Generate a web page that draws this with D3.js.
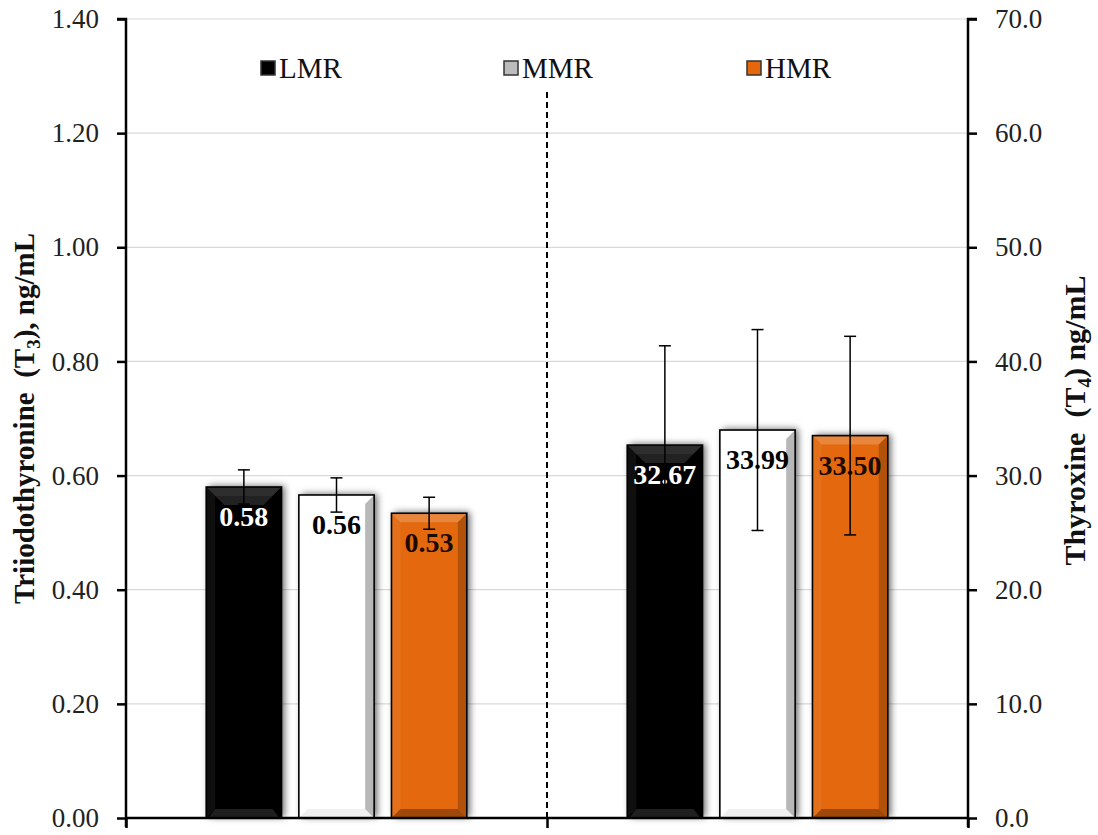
<!DOCTYPE html>
<html>
<head>
<meta charset="utf-8">
<script src="https://cdn.jsdelivr.net/npm/d3@7"></script>
<style>
  html, body { margin: 0; padding: 0; background: #fff; }
  svg { display: block; font-family: "Liberation Serif", "Times New Roman", serif; }
</style>
</head>
<body>
<svg id="chart" width="1098" height="835"></svg>
<script>
// ---- data ----
const groups = ["T3", "T4"];
const series = ["LMR", "MMR", "HMR"];
const t3Means = [0.58, 0.566, 0.534];
const t3Errors = [0.03, 0.03, 0.028];
const t3Labels = ["0.58", "0.56", "0.53"];
const t4Means = [32.67, 33.99, 33.50];
const t4Errors = [8.7, 8.8, 8.7];
const t4Labels = ["32.67", "33.99", "33.50"];
const leftTicks = [0, 0.2, 0.4, 0.6, 0.8, 1.0, 1.2, 1.4];
const rightTicks = [0, 10, 20, 30, 40, 50, 60, 70];

// ---- styles ----
const seriesFill = { LMR: "#000000", MMR: "#ffffff", HMR: "#E4670B" };
const labelFill = { LMR: "#ffffff", MMR: "#000000", HMR: "#1a0a00" };
const bevelOp = { LMR: [0.18, 0.06, 0.2, 0.3], MMR: [0.0, 0.0, 0.28, 0.06], HMR: [0.2, 0.06, 0.22, 0.3] };

const svg = d3.select("#chart");
const margin = { left: 126, right: 1098 - 968, top: 19, bottom: 835 - 818 };
const W = 1098, H = 835;
const x0 = margin.left, x1 = W - margin.right, yTop = margin.top, yBot = H - margin.bottom;

const yL = d3.scaleLinear().domain([0, 1.4]).range([yBot, yTop]);
const yR = d3.scaleLinear().domain([0, 70]).range([yBot, yTop]);
const xg = d3.scaleBand().domain(groups).range([x0, x1]).paddingInner(0).paddingOuter(0);
const xs = d3.scaleBand().domain(series).range([0, xg.bandwidth()]).paddingInner(0.187).paddingOuter(0.866);
const xBound = d3.scaleLinear().domain([0, groups.length]).range([x0, x1]);

const defs = svg.append("defs");
const f = defs.append("filter").attr("id", "shadow").attr("x", "-30%").attr("y", "-10%").attr("width", "160%").attr("height", "120%");
f.append("feDropShadow").attr("dx", 3).attr("dy", -1).attr("stdDeviation", 3.5)
  .attr("flood-color", "#000").attr("flood-opacity", 0.6);

// gridlines
svg.append("g").selectAll("line").data(leftTicks.filter(d => d > 0)).join("line")
  .attr("x1", x0).attr("x2", x1)
  .attr("y1", d => yL(d)).attr("y2", d => yL(d))
  .attr("stroke", "#d9d9d9").attr("stroke-width", 1.2);

// divider
svg.append("line")
  .attr("x1", xBound(1)).attr("x2", xBound(1))
  .attr("y1", 92).attr("y2", yBot)
  .attr("stroke", "#000").attr("stroke-width", 2).attr("stroke-dasharray", "6,4");

// build rows
const rows = [];
groups.forEach((g, gi) => {
  const means = gi === 0 ? t3Means : t4Means;
  const errs = gi === 0 ? t3Errors : t4Errors;
  const labs = gi === 0 ? t3Labels : t4Labels;
  const y = gi === 0 ? yL : yR;
  series.forEach((s, si) => {
    rows.push({ g, s, v: means[si], e: errs[si], lab: labs[si], y });
  });
});

const bw = xs.bandwidth();
const bars = svg.append("g").selectAll("g").data(rows).join("g")
  .attr("transform", d => `translate(${xg(d.g) + xs(d.s)},0)`);

bars.append("rect")
  .attr("x", 0).attr("width", bw)
  .attr("y", d => d.y(d.v)).attr("height", d => yBot - d.y(d.v))
  .attr("fill", d => seriesFill[d.s])
  .attr("filter", "url(#shadow)");

// bevel
const b = 9;
function bevel(sel, ptsFn, color, k) {
  sel.append("polygon").attr("points", d => ptsFn(d).map(p => p.join(",")).join(" "))
    .attr("fill", color).attr("fill-opacity", d => bevelOp[d.s][k]);
}
bevel(bars, d => { const t = d.y(d.v); return [[0, t], [bw, t], [bw - b, t + b], [b, t + b]]; }, "#fff", 0);
bevel(bars, d => { const t = d.y(d.v); return [[0, t], [b, t + b], [b, yBot - b], [0, yBot]]; }, "#fff", 1);
bevel(bars, d => { const t = d.y(d.v); return [[bw, t], [bw, yBot], [bw - b, yBot - b], [bw - b, t + b]]; }, "#000", 2);
bevel(bars, d => [[0, yBot], [b, yBot - b], [bw - b, yBot - b], [bw, yBot]], "#000", 3);
bars.filter(d => d.s === "LMR").append("polygon")
  .attr("points", d => { const t = d.y(d.v); return [[b, t + b], [bw - b, t + b], [bw - 2 * b, t + 2 * b], [2 * b, t + 2 * b]].map(p => p.join(",")).join(" "); })
  .attr("fill", "#444").attr("fill-opacity", 0.5);
bars.filter(d => d.s === "LMR").append("polygon")
  .attr("points", d => [[b, yBot - b], [bw - b, yBot - b], [bw - 2, yBot], [2, yBot]].map(p => p.join(",")).join(" "))
  .attr("fill", "#333").attr("fill-opacity", 0.6);
bars.append("rect")
  .attr("x", 0).attr("width", bw)
  .attr("y", d => d.y(d.v)).attr("height", d => yBot - d.y(d.v))
  .attr("fill", "none").attr("stroke", "#000").attr("stroke-width", 1.6);

// value labels
bars.append("text")
  .attr("x", bw / 2).attr("y", d => d.y(d.v) + 39)
  .attr("text-anchor", "middle")
  .attr("font-size", 28).attr("font-weight", "bold")
  .attr("fill", d => labelFill[d.s])
  .text(d => d.lab);

// error bars
const cap = 6;
const eb = svg.append("g").selectAll("g").data(rows).join("g")
  .attr("transform", d => `translate(${xg(d.g) + xs(d.s) + bw / 2},0)`)
  .attr("stroke", "#000").attr("stroke-width", 1.5);
eb.append("line").attr("y1", d => d.y(d.v + d.e)).attr("y2", d => d.y(d.v - d.e));
eb.append("line").attr("x1", -cap).attr("x2", cap).attr("y1", d => d.y(d.v + d.e)).attr("y2", d => d.y(d.v + d.e));
eb.append("line").attr("x1", -cap).attr("x2", cap).attr("y1", d => d.y(d.v - d.e)).attr("y2", d => d.y(d.v - d.e));

// axes
const axL = svg.append("g").attr("transform", `translate(${x0},0)`)
  .call(d3.axisLeft(yL).tickValues(leftTicks).tickFormat(d3.format(".2f")).tickSize(9).tickPadding(18));
const axR = svg.append("g").attr("transform", `translate(${x1},0)`)
  .call(d3.axisRight(yR).tickValues(rightTicks).tickFormat(d3.format(".1f")).tickSize(9).tickPadding(18));
const axB = svg.append("g").attr("transform", `translate(0,${yBot})`)
  .call(d3.axisBottom(xBound).tickValues([0, 1, 2]).tickFormat("").tickSize(10));
[axL, axR, axB].forEach(a => {
  a.select(".domain").attr("stroke", "#000").attr("stroke-width", 2.5);
  a.selectAll(".tick line").attr("stroke", "#000").attr("stroke-width", 2.5);
  a.selectAll("text").attr("font-family", "'Liberation Serif', 'Times New Roman', serif")
    .attr("font-size", 27).attr("fill", "#222");
});
axL.select(".domain").attr("d", `M-9,${yTop}H0V${yBot + 9}`);
axR.select(".domain").attr("d", `M9,${yTop}H0V${yBot + 9}`);
axB.select(".domain").attr("d", `M${x0},0H${x1}`);

// axis titles
const tL = svg.append("text")
  .attr("transform", `translate(34,${(yTop + yBot) / 2}) rotate(-90)`)
  .attr("text-anchor", "middle").attr("font-size", 29).attr("font-weight", "bold")
  .attr("fill", "#111").style("white-space", "pre");
tL.append("tspan").text("Triiodothyronine  (T");
tL.append("tspan").attr("font-size", 19).attr("dy", 6).text("3");
tL.append("tspan").attr("dy", -6).text("), ng/mL");

const tR = svg.append("text")
  .attr("transform", `translate(1085,${(yTop + yBot) / 2 + 2}) rotate(-90)`)
  .attr("text-anchor", "middle").attr("font-size", 30).attr("font-weight", "bold")
  .attr("fill", "#111").style("white-space", "pre");
tR.append("tspan").text("Thyroxine  (T");
tR.append("tspan").attr("font-size", 19).attr("dy", 6).text("4");
tR.append("tspan").attr("dy", -6).text(") ng/mL");

// legend
const legX = d3.scalePoint().domain(series).range([261, 747]);
const leg = svg.append("g").selectAll("g").data(series).join("g")
  .attr("transform", s => `translate(${legX(s)},61)`);
leg.append("rect").attr("width", 14).attr("height", 14)
  .attr("fill", s => seriesFill[s]).attr("stroke", "#333").attr("stroke-width", 1.5);
leg.filter(s => s === "MMR").select("rect").attr("fill", "#bbb");
leg.append("text").attr("x", 18).attr("y", 17)
  .attr("font-size", 29).attr("fill", "#111").text(s => s);
</script>
</body>
</html>
